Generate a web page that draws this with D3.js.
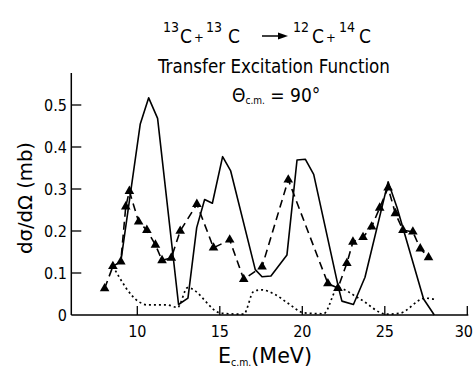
<!DOCTYPE html>
<html>
<head>
<meta charset="utf-8">
<script src="https://cdn.jsdelivr.net/npm/d3@7"></script>
<style>
  html, body { margin: 0; padding: 0; background: #fff; }
  svg { display: block; }
  text { font-family: "DejaVu Sans Condensed", "Liberation Sans Narrow", "Roboto Condensed", sans-serif; fill: #000; }
</style>
</head>
<body>
<svg id="chart" width="474" height="371"></svg>
<script>
// ---- data ----
const solidE = [9.0, 10.18, 10.69, 11.23, 12.5, 13.07, 13.6, 14.08, 14.55, 15.17, 15.66, 17.15, 17.56, 18.1, 19.07, 19.68, 20.18, 20.69, 22.2, 22.4, 23.1, 23.8, 25.2, 25.74, 27.35, 28.0];
const solidV = [0.127, 0.455, 0.517, 0.468, 0.025, 0.04, 0.208, 0.275, 0.266, 0.377, 0.343, 0.108, 0.091, 0.093, 0.143, 0.369, 0.371, 0.335, 0.064, 0.033, 0.025, 0.09, 0.317, 0.256, 0.038, 0.0];

const dashE = [8.02, 8.52, 9.0, 9.3, 9.52, 10.08, 10.58, 11.1, 11.5, 12.06, 12.6, 13.61, 14.62, 15.6, 16.45, 17.56, 19.15, 21.55, 22.16, 22.7, 23.07, 23.68, 24.2, 24.69, 25.2, 25.64, 26.1, 26.7, 27.15, 27.65];
const dashV = [0.063, 0.116, 0.127, 0.258, 0.295, 0.222, 0.202, 0.167, 0.13, 0.136, 0.2, 0.264, 0.16, 0.179, 0.085, 0.115, 0.322, 0.075, 0.064, 0.123, 0.174, 0.185, 0.21, 0.255, 0.303, 0.242, 0.202, 0.198, 0.158, 0.137];

const dotE = [8.52, 10.08, 10.6, 11.8, 12.44, 13.05, 15.1, 16.45, 17.05, 17.5, 18.3, 19.2, 20.1, 21.3, 22.16, 23.5, 25.1, 25.9, 27.45, 28.16];
const dotV = [0.116, 0.032, 0.024, 0.024, 0.018, 0.065, 0.004, 0.002, 0.056, 0.06, 0.05, 0.026, 0.005, 0.003, 0.064, 0.038, 0.002, 0.004, 0.04, 0.036];

const xTicks = [10, 15, 20, 25, 30];
const yTicks = [0, 0.1, 0.2, 0.3, 0.4, 0.5];
const yTickLabels = ["0", "0.1", "0.2", "0.3", "0.4", "0.5"];

// ---- layout ----
const svg = d3.select("#chart");
const x = d3.scaleLinear().domain([6, 30]).range([71.3, 467.3]);
const y = d3.scaleLinear().domain([0, 0.5]).range([315, 105]);

// axes lines
svg.append("line").attr("x1", x(6)).attr("x2", x(6)).attr("y1", 73).attr("y2", y(0))
  .attr("stroke", "#000").attr("stroke-width", 1.5);
svg.append("line").attr("x1", x(6)).attr("x2", x(30) + 1).attr("y1", y(0)).attr("y2", y(0))
  .attr("stroke", "#000").attr("stroke-width", 1.5);

// x ticks (inward)
svg.selectAll(".xt").data(xTicks).enter().append("line")
  .attr("x1", d => x(d)).attr("x2", d => x(d)).attr("y1", y(0)).attr("y2", y(0) - 9)
  .attr("stroke", "#000").attr("stroke-width", 1.3);
svg.selectAll(".xl").data(xTicks).enter().append("text")
  .attr("x", d => d === 30 ? 473 : x(d)).attr("y", 337)
  .attr("text-anchor", d => d === 30 ? "end" : "middle")
  .attr("font-size", 16).text(d => d);

// y ticks (inward)
svg.selectAll(".yt").data(yTicks.slice(1)).enter().append("line")
  .attr("x1", x(6)).attr("x2", x(6) + 10).attr("y1", d => y(d)).attr("y2", d => y(d))
  .attr("stroke", "#000").attr("stroke-width", 1.3);
svg.selectAll(".yl").data(yTicks).enter().append("text")
  .attr("x", 67).attr("y", d => y(d) + 6).attr("text-anchor", "end")
  .attr("font-size", 16).text((d, i) => yTickLabels[i]);

// series
const zip = (a, b) => a.map((v, i) => [v, b[i]]);

svg.append("path")
  .attr("d", d3.line().x(d => x(d[0])).y(d => y(d[1])).curve(d3.curveMonotoneX)(zip(dotE, dotV)))
  .attr("fill", "none").attr("stroke", "#000").attr("stroke-width", 1.7)
  .attr("stroke-dasharray", "2,3");

svg.append("path")
  .attr("d", d3.line().x(d => x(d[0])).y(d => y(d[1]))(zip(solidE, solidV)))
  .attr("fill", "none").attr("stroke", "#000").attr("stroke-width", 1.6)
  .attr("stroke-linejoin", "round");

svg.append("path")
  .attr("d", d3.line().x(d => x(d[0])).y(d => y(d[1]))(zip(dashE, dashV)))
  .attr("fill", "none").attr("stroke", "#000").attr("stroke-width", 1.6)
  .attr("stroke-dasharray", "8,5");

const tri = d3.symbol().type(d3.symbolTriangle).size(40);
svg.selectAll(".tri").data(zip(dashE, dashV)).enter().append("path")
  .attr("d", tri)
  .attr("transform", d => `translate(${x(d[0])},${y(d[1])})`)
  .attr("fill", "#000");

// title line 1: 13C + 13C -> 12C + 14C
const sup = (xx, s) => svg.append("text").attr("x", xx).attr("y", 32).attr("font-size", 14).text(s);
const big = (xx, s) => svg.append("text").attr("x", xx).attr("y", 43).attr("font-size", 19).text(s);
const plus = (xx) => svg.append("text").attr("x", xx).attr("y", 42).attr("font-size", 13).text("+");
sup(163, "13"); big(180, "C"); plus(194);
sup(206, "13"); big(228, "C");
svg.append("line").attr("x1", 262).attr("x2", 280).attr("y1", 36).attr("y2", 36)
  .attr("stroke", "#000").attr("stroke-width", 1.5);
svg.append("path").attr("d", "M278,32.5 L288,36 L278,39.5 Z").attr("fill", "#000");
sup(293, "12"); big(312, "C"); plus(326);
sup(339, "14"); big(359, "C");

svg.append("text").attr("x", 158).attr("y", 73).attr("font-size", 19)
  .attr("textLength", 232).attr("lengthAdjust", "spacingAndGlyphs")
  .text("Transfer Excitation Function");

const t3 = svg.append("text").attr("x", 232).attr("y", 102).attr("font-size", 19);
t3.append("tspan").text("\u0398");
t3.append("tspan").attr("font-size", 10).attr("dy", 2).text("c.m.");
t3.append("tspan").attr("dy", -2).text(" = 90\u00b0");

// axis labels
svg.append("text").attr("transform", "translate(32,198) rotate(-90)")
  .attr("text-anchor", "middle").attr("font-size", 19)
  .attr("textLength", 112).attr("lengthAdjust", "spacingAndGlyphs")
  .text("d\u03c3/d\u03a9 (mb)");

const xl = svg.append("text").attr("x", 218).attr("y", 363).attr("font-size", 22)
  .attr("textLength", 94).attr("lengthAdjust", "spacingAndGlyphs");
xl.append("tspan").text("E");
xl.append("tspan").attr("font-size", 10).attr("dy", 3).text("c.m.");
xl.append("tspan").attr("dy", -3).text("(MeV)");
</script>
</body>
</html>
